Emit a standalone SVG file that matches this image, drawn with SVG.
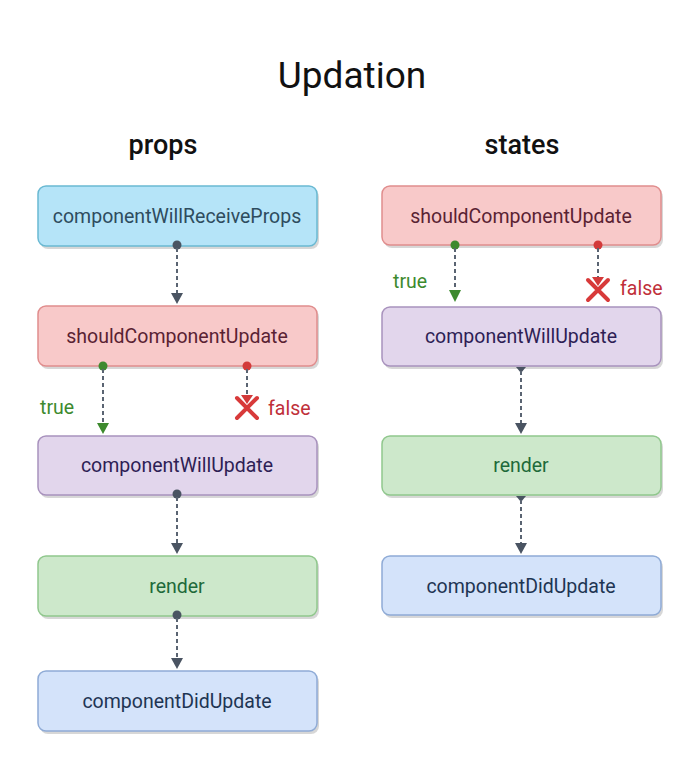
<svg xmlns="http://www.w3.org/2000/svg" width="693" height="774" viewBox="0 0 693 774">
<style>
.t{font-family:Roboto,"Liberation Sans",sans-serif;text-anchor:middle}
.box{stroke-width:1.5}
.shadow{fill:#bdbdbd;opacity:0.6}
.lbl{font-family:Roboto,"Liberation Sans",sans-serif;font-size:19.5px;text-anchor:middle}
.side{font-family:Roboto,"Liberation Sans",sans-serif;font-size:19.5px}
.con{fill:none;stroke:#5a6472;stroke-width:2;stroke-dasharray:4 3}
.ah{fill:#4a5462}
</style>
<rect width="693" height="774" fill="#ffffff"/>
<text class="t" x="352" y="88" font-size="37" fill="#111">Updation</text>
<text class="t" x="163" y="154" font-size="27" font-weight="500" fill="#111">props</text>
<text class="t" x="522" y="154" font-size="27" font-weight="500" fill="#111">states</text>

<g id="p1"><rect class="shadow" x="40" y="189" width="279" height="60" rx="8"/><rect class="box" x="38" y="186" width="279" height="60" rx="8" fill="#b5e4f8" stroke="#6ab9d2"/><text class="lbl" x="177" y="223" fill="#2e4c5e">componentWillReceiveProps</text></g>
<g id="p2"><rect class="shadow" x="40" y="309" width="279" height="60" rx="8"/><rect class="box" x="38" y="306" width="279" height="60" rx="8" fill="#f8c9c9" stroke="#e08d8d"/><text class="lbl" x="177" y="343" fill="#5a2233">shouldComponentUpdate</text></g>
<g id="p3"><rect class="shadow" x="40" y="439" width="279" height="59" rx="8"/><rect class="box" x="38" y="436" width="279" height="59" rx="8" fill="#e2d6ec" stroke="#a892bd"/><text class="lbl" x="177" y="472" fill="#2e1e55">componentWillUpdate</text></g>
<g id="p4"><rect class="shadow" x="40" y="559" width="279" height="60" rx="8"/><rect class="box" x="38" y="556" width="279" height="60" rx="8" fill="#cde8cb" stroke="#90c78d"/><text class="lbl" x="177" y="593" fill="#1e6a3a">render</text></g>
<g id="p5"><rect class="shadow" x="40" y="674" width="279" height="60" rx="8"/><rect class="box" x="38" y="671" width="279" height="60" rx="8" fill="#d4e3fa" stroke="#8fabd6"/><text class="lbl" x="177" y="708" fill="#1e3553">componentDidUpdate</text></g>

<g id="s1"><rect class="shadow" x="384" y="189" width="279" height="59" rx="8"/><rect class="box" x="382" y="186" width="279" height="59" rx="8" fill="#f8c9c9" stroke="#e08d8d"/><text class="lbl" x="521" y="223" fill="#5a2233">shouldComponentUpdate</text></g>
<g id="s2"><rect class="shadow" x="384" y="310" width="279" height="59" rx="8"/><rect class="box" x="382" y="307" width="279" height="59" rx="8" fill="#e2d6ec" stroke="#a892bd"/><text class="lbl" x="521" y="343" fill="#2e1e55">componentWillUpdate</text></g>
<g id="s3"><rect class="shadow" x="384" y="439" width="279" height="59" rx="8"/><rect class="box" x="382" y="436" width="279" height="59" rx="8" fill="#cde8cb" stroke="#90c78d"/><text class="lbl" x="521" y="472" fill="#1e6a3a">render</text></g>
<g id="s4"><rect class="shadow" x="384" y="559" width="279" height="59" rx="8"/><rect class="box" x="382" y="556" width="279" height="59" rx="8" fill="#d4e3fa" stroke="#8fabd6"/><text class="lbl" x="521" y="593" fill="#1e3553">componentDidUpdate</text></g>

<g id="connectors">
<circle cx="177" cy="245" r="4.5" fill="#4a5462"/>
<line class="con" x1="177" y1="248" x2="177" y2="294"/>
<path class="ah" d="M171,293 L183,293 L177,304 Z"/>

<circle cx="103" cy="366" r="4.5" fill="#3d8a2e"/>
<line class="con" x1="103" y1="369" x2="103" y2="424" stroke="#3d8a2e"/>
<path d="M97,423 L109,423 L103,434 Z" fill="#3d8a2e"/>
<text class="side" x="40" y="414" fill="#3d8a2e">true</text>

<circle cx="247" cy="366" r="4.5" fill="#d33a3a"/>
<line class="con" x1="247" y1="369" x2="247" y2="396" stroke="#d33a3a"/>
<path d="M241,395 L253,395 L247,404 Z" fill="#d33a3a"/>
<path d="M237,398 L257,418 M257,398 L237,418" stroke="#d83a3a" stroke-width="4" stroke-linecap="round"/>
<text class="side" x="268" y="415" fill="#c0303a">false</text>

<circle cx="177" cy="494" r="4.5" fill="#4a5462"/>
<line class="con" x1="177" y1="497" x2="177" y2="544"/>
<path class="ah" d="M171,543 L183,543 L177,554 Z"/>
<circle cx="177" cy="615" r="4.5" fill="#4a5462"/>
<line class="con" x1="177" y1="618" x2="177" y2="659"/>
<path class="ah" d="M171,658 L183,658 L177,669 Z"/>

<circle cx="455" cy="245" r="4.5" fill="#3d8a2e"/>
<line class="con" x1="455" y1="248" x2="455" y2="291" stroke="#3d8a2e"/>
<path d="M449,290 L461,290 L455,302 Z" fill="#3d8a2e"/>
<text class="side" x="393" y="288" fill="#3d8a2e">true</text>

<circle cx="598" cy="245" r="4.5" fill="#d33a3a"/>
<line class="con" x1="598" y1="248" x2="598" y2="278" stroke="#d33a3a"/>
<path d="M592,277 L604,277 L598,286 Z" fill="#d33a3a"/>
<path d="M588,280 L608,300 M608,280 L588,300" stroke="#d83a3a" stroke-width="4" stroke-linecap="round"/>
<text class="side" x="620" y="295" fill="#c0303a">false</text>

<path class="ah" d="M516,367 L526,367 L521,373 Z"/>
<line class="con" x1="521" y1="371" x2="521" y2="423"/>
<path class="ah" d="M515,423 L527,423 L521,434 Z"/>
<path class="ah" d="M516,496 L526,496 L521,502 Z"/>
<line class="con" x1="521" y1="500" x2="521" y2="543"/>
<path class="ah" d="M515,543 L527,543 L521,554 Z"/>
</g>
</svg>
